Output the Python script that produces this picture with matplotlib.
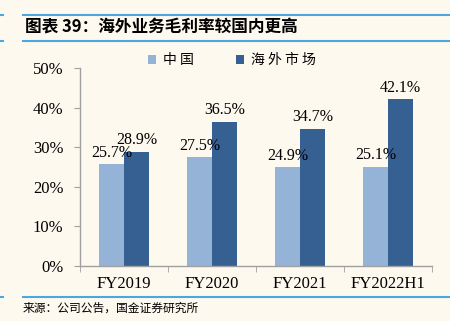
import numpy as np
import matplotlib.pyplot as plt
from matplotlib.lines import Line2D

# === Data ===
years = ['FY2019', 'FY2020', 'FY2021', 'FY2022H1']
china = [25.7, 27.5, 24.9, 25.1]
overseas = [28.9, 36.5, 34.7, 42.1]
series_names = ['中 国', '海 外 市 场']

# === Style ===
bg = '#FDF9EF'
c_china = '#95B3D7'
c_over = '#376092'
line_blue = '#4AA8DE'
cjk = ['Noto Sans CJK SC', 'DejaVu Sans']
serif = 'Liberation Serif'

fig = plt.figure(figsize=(4.5, 3.21), dpi=100, facecolor=bg)
ax = fig.add_axes([0.178, 0.171, 0.782, 0.617], facecolor=bg)

x = np.arange(len(years))
w = 0.285
b1 = ax.bar(x - w / 2, china, w, color=c_china, label=series_names[0])
b2 = ax.bar(x + w / 2, overseas, w, color=c_over, label=series_names[1])

for rect, v in zip(b1, china):
    ax.text(rect.get_x() + rect.get_width() / 2, v + 0.9, f'{v:.1f}%',
            ha='center', va='bottom', fontsize=11.5, family=serif)
for rect, v in zip(b2, overseas):
    ax.text(rect.get_x() + rect.get_width() / 2, v + 0.9, f'{v:.1f}%',
            ha='center', va='bottom', fontsize=11.5, family=serif)

ax.set_xlim(-0.5, len(years) - 0.5)
ax.set_ylim(0, 50)
ax.set_yticks(np.arange(0, 51, 10))
ax.set_yticklabels([f'{t}%' for t in range(0, 51, 10)], family=serif, fontsize=12)
ax.set_xticks(x)
ax.set_xticklabels(years, family=serif, fontsize=12)
ax.set_xticks(np.arange(-0.5, len(years)), minor=True)
ax.tick_params(axis='x', which='major', length=0, pad=7)
ax.tick_params(axis='x', which='minor', length=4, color='#A0A0A0', direction='out')
ax.tick_params(axis='y', length=4, color='#A0A0A0', pad=8)
for s in ['top', 'right']:
    ax.spines[s].set_visible(False)
for s in ['left', 'bottom']:
    ax.spines[s].set_color('#A0A0A0')
    ax.spines[s].set_linewidth(1.0)

leg = fig.legend(handles=[b1, b2], labels=series_names, loc='center',
                 bbox_to_anchor=(0.515, 0.812), ncol=2, frameon=False,
                 prop={'family': cjk, 'size': 10}, handlelength=0.6,
                 handleheight=0.6, columnspacing=3.0, handletextpad=0.5)

# title lines and text
for yy in [1 - 15 / 321, 1 - 41 / 321, 1 - 297 / 321]:
    fig.add_artist(Line2D([23 / 450, 1.0], [yy, yy], color=line_blue, lw=1.5))
    fig.add_artist(Line2D([0, 3 / 450], [yy, yy], color=line_blue, lw=1.5))

fig.text(25 / 450, 1 - 28 / 321, '图表 39：海外业务毛利率较国内更高', family=cjk,
         fontsize=12, fontweight='bold', fontstyle='italic', va='center', ha='left')
fig.text(23 / 450, 1 - 308 / 321, '来源：公司公告，国金证券研究所', family=cjk,
         fontsize=8.5, va='center', ha='left')

fig.savefig('out.png', dpi=100, facecolor=bg)
